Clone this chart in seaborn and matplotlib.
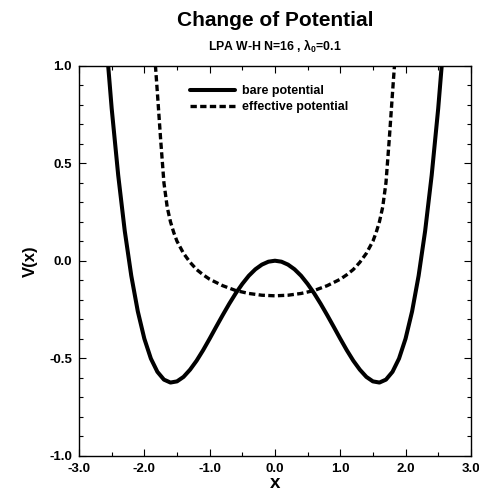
import numpy as np
import pandas as pd
import matplotlib
matplotlib.use('Agg')
import matplotlib.pyplot as plt
from matplotlib.ticker import MultipleLocator, FormatStrFormatter
import seaborn as sns

# values
x_bare = [-2.6, -2.5, -2.4, -2.3, -2.2, -2.1, -2.0, -1.9, -1.8, -1.7, -1.6, -1.5, -1.4,
          -1.3, -1.2, -1.1, -1.0, -0.9, -0.8, -0.7, -0.6, -0.5, -0.4, -0.3, -0.2, -0.1,
          0.0, 0.1, 0.2, 0.3, 0.4, 0.5, 0.6, 0.7, 0.8, 0.9, 1.0, 1.1, 1.2, 1.3, 1.4,
          1.5, 1.6, 1.7, 1.8, 1.9, 2.0, 2.1, 2.2, 2.3, 2.4, 2.5, 2.6]
v_bare = [1.19, 0.781, 0.438, 0.153, -0.077, -0.260, -0.400, -0.502, -0.570, -0.610,
          -0.625, -0.619, -0.596, -0.559, -0.513, -0.459, -0.400, -0.339, -0.279, -0.221,
          -0.167, -0.119, -0.077, -0.044, -0.020, -0.005,
          0.0, -0.005, -0.020, -0.044, -0.077, -0.119, -0.167, -0.221, -0.279, -0.339,
          -0.400, -0.459, -0.513, -0.559, -0.596, -0.619, -0.625, -0.610, -0.570, -0.502,
          -0.400, -0.260, -0.077, 0.153, 0.438, 0.781, 1.19]

x_eff = [-1.86, -1.83, -1.8, -1.75, -1.7, -1.65, -1.6, -1.55, -1.5, -1.4, -1.3, -1.2,
         -1.1, -1.0, -0.8, -0.6, -0.4, -0.2, 0.0, 0.2, 0.4, 0.6, 0.8, 1.0, 1.1, 1.2,
         1.3, 1.4, 1.5, 1.55, 1.6, 1.65, 1.7, 1.75, 1.8, 1.83, 1.86]
v_eff = [1.15, 1.00, 0.86, 0.62, 0.40, 0.275, 0.200, 0.145, 0.100, 0.038, -0.008, -0.045,
         -0.072, -0.095, -0.128, -0.153, -0.168, -0.177, -0.180, -0.177, -0.168, -0.153,
         -0.128, -0.095, -0.072, -0.045, -0.008, 0.038, 0.100, 0.145, 0.200, 0.275, 0.40,
         0.62, 0.86, 1.00, 1.15]

labels = ['bare potential', 'effective potential']

sns.set_style('ticks')
plt.rcParams['font.family'] = ['Liberation Sans', 'DejaVu Sans']
plt.rcParams['font.weight'] = 'bold'
plt.rcParams['text.color'] = 'black'
plt.rcParams['axes.labelcolor'] = 'black'
plt.rcParams['xtick.color'] = 'black'
plt.rcParams['ytick.color'] = 'black'
plt.rcParams['mathtext.fontset'] = 'custom'
plt.rcParams['mathtext.rm'] = 'Liberation Sans:bold'
plt.rcParams['mathtext.it'] = 'Liberation Sans:bold'
plt.rcParams['mathtext.bf'] = 'Liberation Sans:bold'

fig = plt.figure(figsize=(4.79, 4.91), dpi=100)
ax = fig.add_axes([0.165, 0.072, 0.818, 0.794])

bare = pd.DataFrame({'x': x_bare, 'V': v_bare})
eff = pd.DataFrame({'x': x_eff, 'V': v_eff})

sns.lineplot(data=bare, x='x', y='V', ax=ax, color='black', lw=2.9,
             sort=False, estimator=None, label=labels[0])
sns.lineplot(data=eff, x='x', y='V', ax=ax, color='black', lw=2.4,
             sort=False, estimator=None, label=labels[1])
ax.lines[1].set_dashes((1.9, 1.0))

ax.set_xlim(-3, 3)
ax.set_ylim(-1, 1)
ax.xaxis.set_major_locator(MultipleLocator(1.0))
ax.xaxis.set_minor_locator(MultipleLocator(0.5))
ax.yaxis.set_major_locator(MultipleLocator(0.5))
ax.yaxis.set_minor_locator(MultipleLocator(0.1))
ax.xaxis.set_major_formatter(FormatStrFormatter('%.1f'))
ax.yaxis.set_major_formatter(FormatStrFormatter('%.1f'))
ax.tick_params(which='both', direction='in', top=True, right=True,
               labelsize=9.5, width=0.8, pad=5)
ax.tick_params(which='major', length=5)
ax.tick_params(which='minor', length=3)
for s in ax.spines.values():
    s.set_linewidth(1.0)
    s.set_color('black')

ax.set_xlabel('x', fontsize=13.5, fontweight='bold', labelpad=0)
ax.set_ylabel('V(x)', fontsize=12, fontweight='bold', labelpad=8)

fig.text(0.574, 0.958, 'Change of Potential', ha='center', va='center',
         fontsize=15, fontweight='bold')
fig.text(0.574, 0.906, r'LPA W-H N=16 , λ$_0$=0.1', ha='center', va='center',
         fontsize=8.8, fontweight='bold')

ax.legend(loc='upper left', bbox_to_anchor=(0.283, 0.95), frameon=False,
          borderaxespad=0, borderpad=0, handlelength=3.6, handletextpad=0.6,
          labelspacing=0.3, prop={'size': 9, 'weight': 'bold'})

fig.savefig('out.png', dpi=100)
